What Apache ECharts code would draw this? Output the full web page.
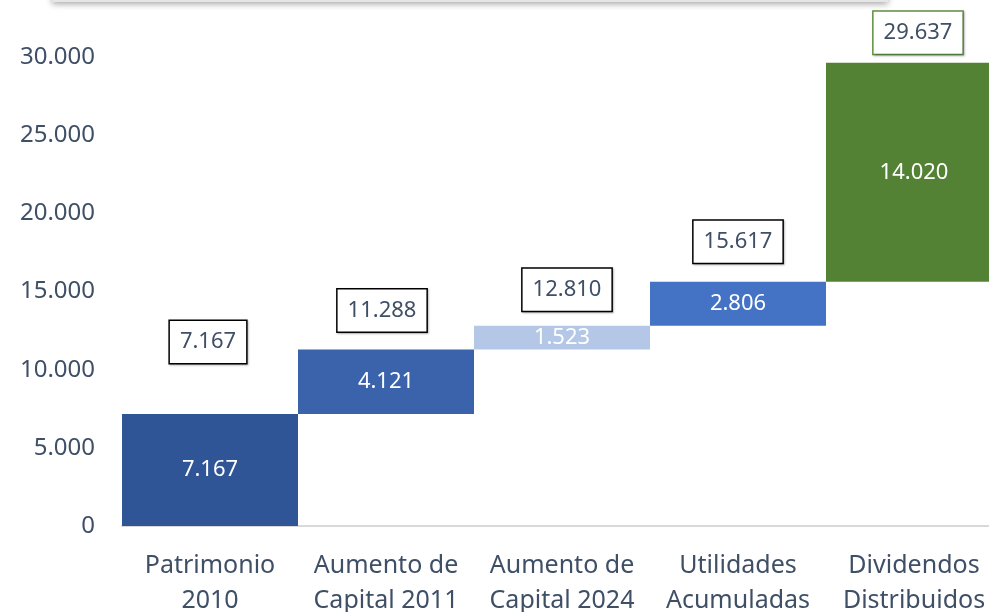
<!DOCTYPE html>
<html lang="es">
<head>
  <meta charset="UTF-8" />
  <title>Patrimonio</title>
  <script src="https://cdn.jsdelivr.net/npm/echarts@6/dist/echarts.min.js"></script>
  <style>
    html, body { margin: 0; padding: 0; background: #fff; overflow: hidden; }
    #main { width: 989px; height: 612px; }
  </style>
</head>
<body>
  <div id="main"></div>
  <script>
    // datos
    var categories = ["Patrimonio\n2010", "Aumento de\nCapital 2011", "Aumento de\nCapital 2024", "Utilidades\nAcumuladas", "Dividendos\nDistribuidos"];
    var deltas = [7167, 4121, 1523, 2806, 14020];
    var totals = [7167, 11288, 12810, 15617, 29637];
    var yTicks = [0, 5000, 10000, 15000, 20000, 25000, 30000];

    // estilos
    var barColors = ["#2F5597", "#3B63AC", "#B4C7E7", "#4472C4", "#548235"];
    var boxBorders = ["#000", "#000", "#000", "#000", "#5E9040"];
    var boxLift = [72, 39, 36, 40, 30];
    var boxShift = [-2, -4, 5, 0, 4];
    var textColor = "#3F4F66";
    var font = "Noto Sans";

    // base invisible del waterfall
    var base = [];
    var acc = 0;
    for (var i = 0; i < deltas.length; i++) {
      base.push(i === 0 ? 0 : acc);
      acc += deltas[i];
    }

    function fmt(v) {
      return String(v).replace(/\B(?=(\d{3})+(?!\d))/g, ".");
    }

    var chart = echarts.init(document.getElementById("main"));

    var option = {
      animation: false,
      textStyle: { fontFamily: font },
      graphic: [{
        type: "rect",
        shape: { x: 52, y: -14, width: 836, height: 16 },
        style: { fill: "#e6e6e6", shadowBlur: 6, shadowOffsetY: 2, shadowColor: "rgba(0,0,0,0.35)" },
        z: 10
      }],
      grid: { left: 122, width: 880, top: 57, height: 469, outerBoundsMode: "none", containLabel: false },
      xAxis: {
        type: "category",
        data: categories,
        axisTick: { show: false },
        axisLine: { lineStyle: { color: "#d9d9d9", width: 2 } },
        axisLabel: {
          color: textColor,
          fontSize: 25,
          lineHeight: 35,
          margin: 22,
          interval: 0,
          fontFamily: font
        }
      },
      yAxis: {
        type: "value",
        min: yTicks[0],
        max: yTicks[yTicks.length - 1],
        interval: 5000,
        splitLine: { show: false },
        axisLine: { show: false },
        axisTick: { show: false },
        axisLabel: {
          color: textColor,
          fontSize: 24,
          margin: 27,
          fontFamily: font,
          formatter: function (v) { return fmt(v); }
        }
      },
      series: [
        {
          type: "bar",
          stack: "w",
          data: base,
          itemStyle: { color: "rgba(0,0,0,0)" },
          barCategoryGap: "0%",
          silent: true
        },
        {
          type: "bar",
          stack: "w",
          barCategoryGap: "0%",
          data: deltas.map(function (v, i) {
            return { value: v, itemStyle: { color: barColors[i] } };
          }),
          label: {
            show: true,
            position: "inside",
            color: "#fff",
            fontSize: 22,
            fontFamily: font,
            formatter: function (p) { return fmt(p.value); }
          }
        },
        {
          type: "scatter",
          symbolSize: 1,
          itemStyle: { color: "rgba(0,0,0,0)", opacity: 1 },
          z: 5,
          data: totals.map(function (v, i) {
            return {
              value: v,
              label: {
                offset: [boxShift[i], -boxLift[i]],
                borderColor: boxBorders[i]
              }
            };
          }),
          label: {
            show: true,
            position: "inside",
            color: textColor,
            fontSize: 22,
            lineHeight: 28,
            fontFamily: font,
            backgroundColor: "#fff",
            borderWidth: 1.5,
            padding: [7, 10, 7, 10],
            shadowBlur: 2,
            shadowOffsetX: 1,
            shadowOffsetY: 1,
            shadowColor: "rgba(0,0,0,0.25)",
            formatter: function (p) { return fmt(p.value); }
          }
        }
      ]
    };

    chart.setOption(option);
  </script>
</body>
</html>
